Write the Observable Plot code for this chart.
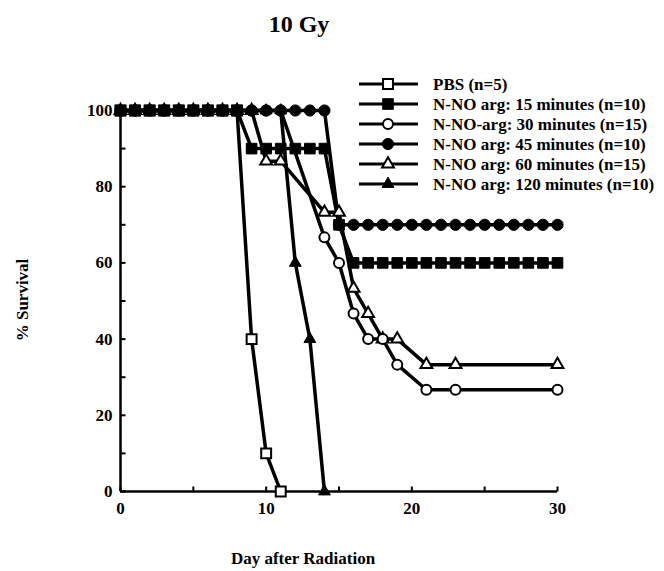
<!DOCTYPE html>
<html><head><meta charset="utf-8">
<script src="https://cdn.jsdelivr.net/npm/d3@7"></script>
<script src="https://cdn.jsdelivr.net/npm/@observablehq/plot@0.6"></script>
<style>
body{margin:0;background:#fff}
#chart{width:664px;height:571px;overflow:hidden}
</style>
</head><body><div id="chart"></div>
<script>
const titleText = "10 Gy";
const xLabelText = "Day after Radiation";
const yLabelText = "% Survival";

const xTicks = [0, 10, 20, 30];
const xMinorTicks = [5, 15, 25];
const yTicks = [0, 20, 40, 60, 80, 100];
const yMinorTicks = [10, 30, 50, 70, 90];

const seriesNames = [
  "PBS (n=5)",
  "N-NO arg: 15 minutes (n=10)",
  "N-NO-arg: 30 minutes (n=15)",
  "N-NO arg: 45 minutes (n=10)",
  "N-NO arg: 60 minutes (n=15)",
  "N-NO arg: 120 minutes (n=10)"
];

const pbsDays     = [0,1,2,3,4,5,6,7,8,9,10,11];
const pbsSurvival = [100,100,100,100,100,100,100,100,100,40,10,0];

const min15Days     = [0,1,2,3,4,5,6,7,8,9,10,11,12,13,14,15,16,17,18,19,20,21,22,23,24,25,26,27,28,29,30];
const min15Survival = [100,100,100,100,100,100,100,100,100,90,90,90,90,90,90,70,60,60,60,60,60,60,60,60,60,60,60,60,60,60,60];

const min30Days     = [0,1,2,3,4,5,6,7,8,9,10,11,14,15,16,17,18,19,21,23,30];
const min30Survival = [100,100,100,100,100,100,100,100,100,100,100,100,66.7,60,46.7,40,40,33.3,26.7,26.7,26.7];

const min45Days     = [0,1,2,3,4,5,6,7,8,9,10,11,12,13,14,15,16,17,18,19,20,21,22,23,24,25,26,27,28,29,30];
const min45Survival = [100,100,100,100,100,100,100,100,100,100,100,100,100,100,100,70,70,70,70,70,70,70,70,70,70,70,70,70,70,70,70];

const min60Days     = [0,1,2,3,4,5,6,7,8,9,10,11,14,15,16,17,18,19,21,23,30];
const min60Survival = [100,100,100,100,100,100,100,100,100,100,86.7,86.7,73.3,73.3,53.3,46.7,40,40,33.3,33.3,33.3];

const min120Days     = [0,1,2,3,4,5,6,7,8,9,10,11,12,13,14];
const min120Survival = [100,100,100,100,100,100,100,100,100,100,100,100,60,40,0];

const seriesDays = [pbsDays, min15Days, min30Days, min45Days, min60Days, min120Days];
const seriesSurvival = [pbsSurvival, min15Survival, min30Survival, min45Survival, min60Survival, min120Survival];

// styling per series (symbol, filled, radius)
const styles = [
  {symbol: "square",   filled: false, r: 5.6},
  {symbol: "square",   filled: true,  r: 6},
  {symbol: "circle",   filled: false, r: 5},
  {symbol: "circle",   filled: true,  r: 5.6},
  {symbol: "triangle", filled: false, r: 4.4},
  {symbol: "triangle", filled: true,  r: 4.4}
];

const rows = [];
seriesNames.forEach((name, i) => {
  seriesDays[i].forEach((d, j) => rows.push({series: name, idx: i, day: d, survival: seriesSurvival[i][j]}));
});

const drawOrder = [0, 5, 4, 2, 3, 1];
const FONT = "'Liberation Serif', 'Times New Roman', serif";

const tickRight = {draw(ctx) { ctx.moveTo(0, 0); ctx.lineTo(5, 0); }};
const tickUp = {draw(ctx) { ctx.moveTo(0, 0); ctx.lineTo(0, -5); }};

const marks = [
  Plot.axisY({ticks: yTicks, tickSize: 0, tickPadding: 8, label: null, fontWeight: "bold"}),
  Plot.axisX({ticks: xTicks, tickSize: 0, tickPadding: 10, label: null, fontWeight: "bold"}),
  Plot.dot(yTicks.concat(yMinorTicks), {x: () => 0, y: d => d, symbol: tickRight, stroke: "black", strokeWidth: 2, fill: "none"}),
  Plot.dot(xTicks.concat(xMinorTicks), {x: d => d, y: () => 0, symbol: tickUp, stroke: "black", strokeWidth: 2, fill: "none"}),
  Plot.ruleX([0], {strokeWidth: 2.5}),
  Plot.ruleY([0], {strokeWidth: 2.5}),
  Plot.line(rows, {x: "day", y: "survival", z: "series", stroke: "black", strokeWidth: 3.5, strokeLinejoin: "round"})
];
drawOrder.forEach(i => {
  const s = styles[i];
  marks.push(Plot.dot(rows.filter(d => d.idx === i), {
    x: "day", y: "survival", symbol: s.symbol, r: s.r,
    fill: s.filled ? "black" : "white", stroke: "black", strokeWidth: s.filled ? 1 : 2
  }));
});

const svgEl = Plot.plot({
  width: 664, height: 571,
  marginLeft: 120, marginRight: 107, marginTop: 110, marginBottom: 80,
  x: {domain: [0, 30]},
  y: {domain: [0, 100]},
  style: {fontFamily: FONT, fontSize: "17px", fontWeight: "bold", color: "black", background: "white"},
  marks
});

document.getElementById("chart").appendChild(svgEl);

const svg = d3.select(svgEl);
svg.append("text").attr("x", 299).attr("y", 32).attr("text-anchor", "middle")
  .style("font-family", FONT).style("font-size", "24px").style("font-weight", "bold").text(titleText);
svg.append("text").attr("transform", "translate(28,300) rotate(-90)").attr("text-anchor", "middle")
  .style("font-family", FONT).style("font-size", "17px").style("font-weight", "bold").text(yLabelText);
svg.append("text").attr("x", 303).attr("y", 564).attr("text-anchor", "middle")
  .style("font-family", FONT).style("font-size", "17px").style("font-weight", "bold").text(xLabelText);

const symMap = {square: d3.symbolSquare, circle: d3.symbolCircle, triangle: d3.symbolTriangle};
const legendY = [84, 104, 124, 144, 164, 184];
const lg = svg.append("g").attr("text-anchor", "start");
seriesNames.forEach((name, i) => {
  const s = styles[i];
  const y = legendY[i];
  lg.append("line").attr("x1", 359).attr("x2", 418).attr("y1", y).attr("y2", y)
    .attr("stroke", "black").attr("stroke-width", 3);
  lg.append("path").attr("transform", `translate(388,${y})`)
    .attr("d", d3.symbol().type(symMap[s.symbol]).size(Math.PI * s.r * s.r)())
    .attr("fill", s.filled ? "black" : "white").attr("stroke", "black").attr("stroke-width", s.filled ? 1 : 2);
  lg.append("text").attr("x", 433).attr("y", y).attr("dy", "0.35em").attr("text-anchor", "start")
    .style("font-family", FONT).style("font-size", "17px").style("font-weight", "bold").text(name);
});
</script>
</body></html>
